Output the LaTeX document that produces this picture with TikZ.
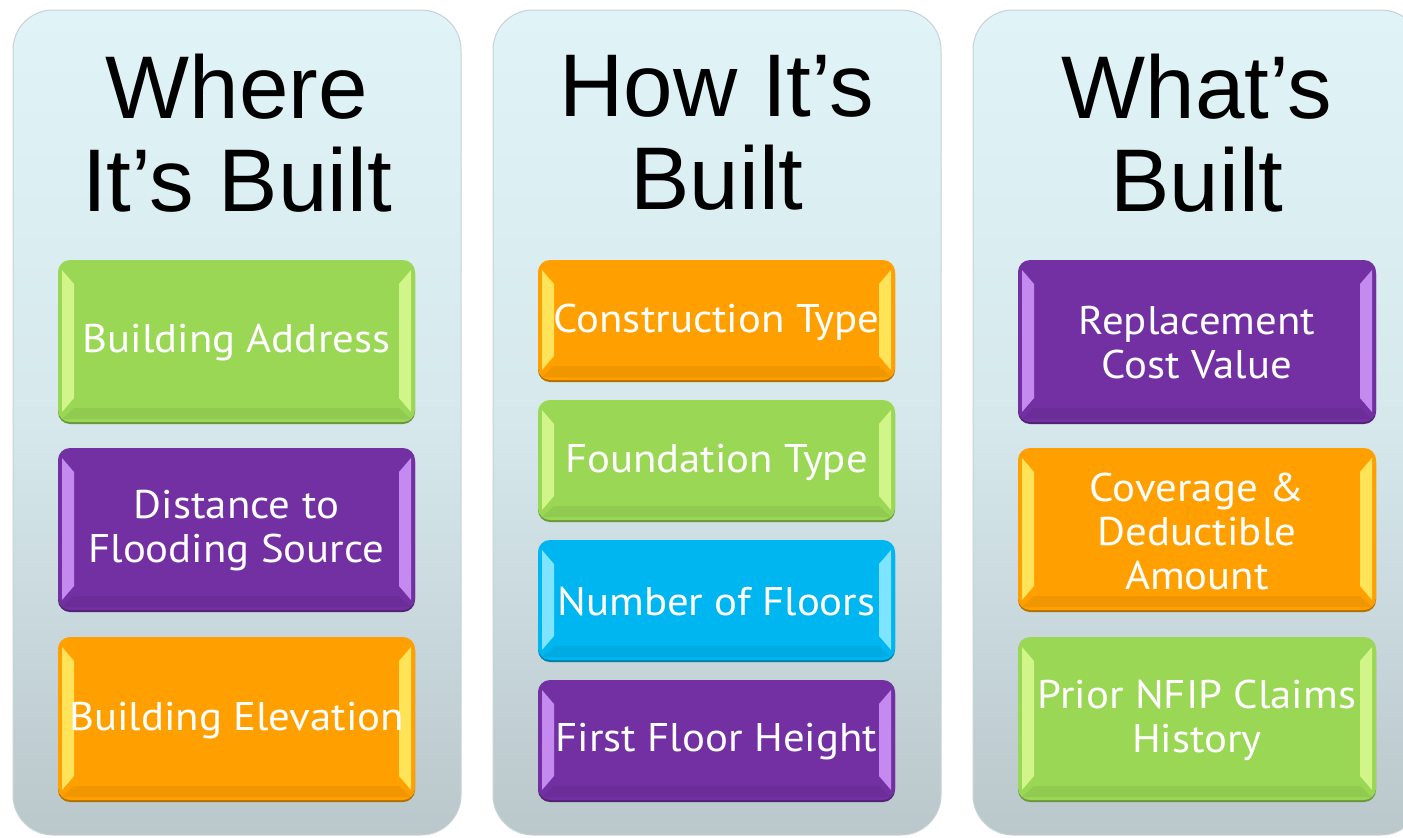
\documentclass[tikz,border=0pt]{standalone}
\usepackage{fontspec}
\setmainfont{Liberation Sans}
\newfontfamily\boxfont[FakeStretch=1.07]{PT Sans}
\usetikzlibrary{calc}
\definecolor{pgreen}{HTML}{9AD755}
\definecolor{hgreen}{HTML}{D2F58A}
\definecolor{ppurple}{HTML}{7330A3}
\definecolor{hpurple}{HTML}{C58AF0}
\definecolor{porange}{HTML}{FFA000}
\definecolor{horange}{HTML}{FFE45A}
\definecolor{pcyan}{HTML}{00B6F0}
\definecolor{hcyan}{HTML}{7FE4FF}
\definecolor{paneltop}{HTML}{E0F4F8}
\definecolor{panelmid}{HTML}{D6E8EC}
\definecolor{panelbot}{HTML}{BAC7CB}
\tikzset{
  panel/.style={rounded corners=40pt, top color=paneltop, bottom color=panelbot, middle color=panelmid, draw=panelbot!80!white, line width=1pt},
  title/.style={font=\fontsize{89}{93}\selectfont, align=center, text=black},
  boxtext/.style={font=\boxfont\fontsize{40}{44}\selectfont, align=center, text=white},
}
\newcommand\bevbox[8]{%
  \fill[#6!70!black, rounded corners=12pt] (#2,#3+2) rectangle (#4,#5+2);
  \fill[#6, rounded corners=12pt] (#2,#3) rectangle (#4,#5);
  \fill[#6!94!black] (#2+16,#5-14) -- (#4-16,#5-14) -- (#4-4,#5-3) -- (#2+4,#5-3) -- cycle;
  \fill[#7] (#2+4,#3+10) -- (#2+16,#3+24) -- (#2+16,#5-24) -- (#2+4,#5-10) -- cycle;
  \fill[#7] (#4-4,#3+10) -- (#4-16,#3+24) -- (#4-16,#5-24) -- (#4-4,#5-10) -- cycle;
  \node[boxtext] (#1) at ({(#2+#4)/2},{(#3+#5)/2+2}) {#8};
}
\begin{document}
\begin{tikzpicture}[x=1pt,y=-1pt]
\useasboundingbox (0,0) rectangle (1403,838);
\clip (0,0) rectangle (1403,838);
\fill[white] (0,0) rectangle (1403,838);
% panels
\path[panel] (13,10) rectangle (461,835);
\path[panel] (493,10) rectangle (941,835);
\path[panel] (973,10) rectangle (1421,835);
% titles
\node[title] (t1) at (237,133) {Where\\It’s Built};
\node[title] (t2) at (717,133) {How It’s\\Built};
\node[title] (t3) at (1197,133) {What’s\\Built};
% column 1
\bevbox{a1}{58}{260}{415}{422}{pgreen}{hgreen}{Building Address}
\bevbox{a2}{58}{448}{415}{610}{ppurple}{hpurple}{Distance to\\Flooding Source}
\bevbox{a3}{58}{637}{415}{800}{porange}{horange}{Building Elevation}
% column 2
\bevbox{b1}{538}{260}{895}{380}{porange}{horange}{Construction Type}
\bevbox{b2}{538}{400}{895}{520}{pgreen}{hgreen}{Foundation Type}
\bevbox{b3}{538}{540}{895}{660}{pcyan}{hcyan}{Number of Floors}
\bevbox{b4}{538}{680}{895}{800}{ppurple}{hpurple}{First Floor Height}
% column 3
\bevbox{c1}{1018}{260}{1376}{422}{ppurple}{hpurple}{Replacement\\Cost Value}
\bevbox{c2}{1018}{448}{1376}{610}{porange}{horange}{Coverage \&\\Deductible\\Amount}
\bevbox{c3}{1018}{637}{1376}{800}{pgreen}{hgreen}{Prior NFIP Claims\\History}
\end{tikzpicture}
\end{document}
